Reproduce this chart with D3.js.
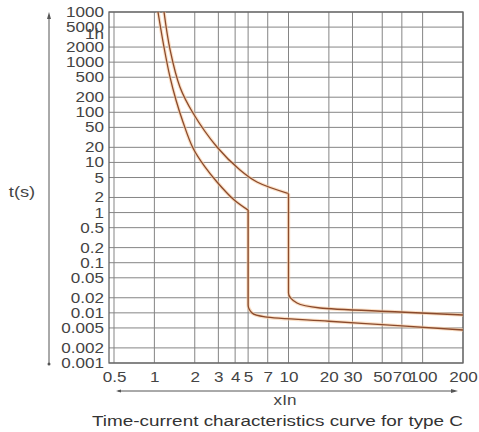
<!DOCTYPE html>
<html>
<head>
<meta charset="utf-8">
<script src="https://cdn.jsdelivr.net/npm/d3@7"></script>
<style>
  body { margin:0; background:#fff; }
  text { font-family: Arial, "Liberation Sans", sans-serif; }
</style>
</head>
<body>
<svg id="chart" width="479" height="432"></svg>
<script>
// tick values (seconds) and the labels printed beside them
var tTicks  = [10000, 5000, 3600, 2000, 1000, 500, 200, 100, 50, 20, 10, 5, 2, 1, 0.5, 0.2, 0.1, 0.05, 0.02, 0.01, 0.005, 0.002, 0.001];
var tLabels = ["1000","5000","1h","2000","1000","500","200","100","50","20","10","5","2","1","0.5","0.2","0.1","0.05","0.02","0.01","0.005","0.002","0.001"];
var xTicks  = [0.5, 1, 2, 3, 4, 5, 7, 10, 20, 30, 50, 70, 100, 200];

// lower (left) curve, multiples of In vs seconds
var lowerX = [1.064, 1.179, 1.307, 1.449, 1.634, 1.94, 2.384, 2.93, 3.86, 5, 5, 5.35, 6.68, 20, 70, 200];
var lowerT = [10000, 2005, 506, 176, 64.1, 19.4, 8.11, 4.07, 1.87, 1.12, 0.0144, 0.0099, 0.0083, 0.0068, 0.0055, 0.00455];
var lowerCorner = 9;

// upper (right) curve
var upperX = [1.18, 1.31, 1.55, 1.94, 2.93, 4.35, 5.82, 10, 10, 11.57, 17.2, 67.8, 200];
var upperT = [10000, 1750, 320, 96.9, 20.3, 7.06, 4.07, 2.4, 0.0249, 0.0157, 0.0125, 0.0104, 0.00906];
var upperCorner = 7;

var pLeft = 109, pRight = 463, pTop = 12, pBottom = 363;
var sx = 1.22; // the print is stretched sideways

var svg = d3.select('#chart');

var x = d3.scaleLog().domain([0.5, 200]).range([114, 463]);
var y = d3.scaleLog().domain([0.001, 10000]).range([pBottom, pTop]);

// grid
svg.append('g').selectAll('line')
   .data(tTicks.filter(function(d){ return d != 3600; }))
   .enter().append('line')
   .attr('x1', pLeft).attr('x2', pRight)
   .attr('y1', function(d){ return y(d); })
   .attr('y2', function(d){ return y(d); })
   .attr('stroke', '#858585').attr('stroke-width', 1);

svg.append('g').selectAll('line')
   .data(xTicks)
   .enter().append('line')
   .attr('x1', function(d){ return x(d); })
   .attr('x2', function(d){ return x(d); })
   .attr('y1', pTop).attr('y2', pBottom)
   .attr('stroke', '#858585').attr('stroke-width', 1);

svg.append('rect')
   .attr('x', pLeft).attr('y', pTop)
   .attr('width', pRight-pLeft).attr('height', pBottom-pTop)
   .attr('fill', 'none').attr('stroke', '#666').attr('stroke-width', 1.3);

// axes (labels only)
var yAxis = svg.append('g')
   .attr('transform', 'translate(' + pLeft + ',0)')
   .call(d3.axisLeft(y).tickValues(tTicks).tickSize(0).tickPadding(5)
          .tickFormat(function(d,i){ return tLabels[i]; }));
yAxis.select('.domain').remove();
yAxis.selectAll('text')
   .attr('x', -5/sx)
   .attr('transform', 'scale(' + sx + ',1)')
   .attr('fill', '#444')
   .style('font-size', '14px');

var xAxis = svg.append('g')
   .attr('transform', 'translate(0,' + pBottom + ')')
   .call(d3.axisBottom(x).tickValues(xTicks).tickSize(0).tickPadding(9)
          .tickFormat(function(d){ return String(d); }));
xAxis.select('.domain').remove();
xAxis.selectAll('.tick text')
   .attr('transform', 'scale(' + sx + ',1)')
   .attr('fill', '#444')
   .style('font-size', '14px');

// curves: two pieces each so the corner stays sharp
var upperLine = d3.line()
   .x(function(d){ return x(d[0]); })
   .y(function(d){ return y(d[1]); })
   .curve(d3.curveCatmullRom.alpha(0.5));
var lowerLine = d3.line()
   .x(function(d){ return x(d[0]); })
   .y(function(d){ return y(d[1]); })
   .curve(d3.curveMonotoneY);

function drawCurve(xs, ts, corner){
  var pts = xs.map(function(v,i){ return [v, ts[i]]; });
  var paths = [upperLine(pts.slice(0, corner+1)), lowerLine(pts.slice(corner))];
  paths.forEach(function(p){
    svg.append('path').attr('d', p)
       .attr('fill', 'none').attr('stroke', '#f6c9a0')
       .attr('stroke-width', 3.5).attr('stroke-opacity', 0.6);
    svg.append('path').attr('d', p)
       .attr('fill', 'none').attr('stroke', '#8b4a2b')
       .attr('stroke-width', 1.3);
  });
}
drawCurve(lowerX, lowerT, lowerCorner);
drawCurve(upperX, upperT, upperCorner);

// arrows
var arrowCol = '#555';
svg.append('line').attr('x1', 49).attr('x2', 49).attr('y1', 16).attr('y2', 364)
   .attr('stroke', arrowCol).attr('stroke-width', 1);
svg.append('path').attr('d', 'M49,12 L47,19 L51,19 Z').attr('fill', arrowCol);
svg.append('circle').attr('cx', 49).attr('cy', 364).attr('r', 1.5).attr('fill', arrowCol);

svg.append('line').attr('x1', 118).attr('x2', 455).attr('y1', 391).attr('y2', 391)
   .attr('stroke', arrowCol).attr('stroke-width', 1);
svg.append('path').attr('d', 'M458,391 L451,389 L451,393 Z').attr('fill', arrowCol);
svg.append('path').attr('d', 'M116,391 L121,389.5 L121,392.5 Z').attr('fill', arrowCol);

// titles
svg.append('text')
   .attr('transform', 'translate(22,197) scale(' + sx + ',1)')
   .attr('text-anchor', 'middle')
   .attr('fill', '#444').style('font-size', '15px')
   .text('t(s)');

svg.append('text')
   .attr('transform', 'translate(285,405) scale(' + sx + ',1)')
   .attr('text-anchor', 'middle')
   .attr('fill', '#444').style('font-size', '14px')
   .text('xIn');

svg.append('text')
   .attr('x', 92).attr('y', 426)
   .attr('textLength', 371).attr('lengthAdjust', 'spacingAndGlyphs')
   .attr('fill', '#333').style('font-size', '14px')
   .text('Time-current characteristics curve for type C');
</script>
</body>
</html>
